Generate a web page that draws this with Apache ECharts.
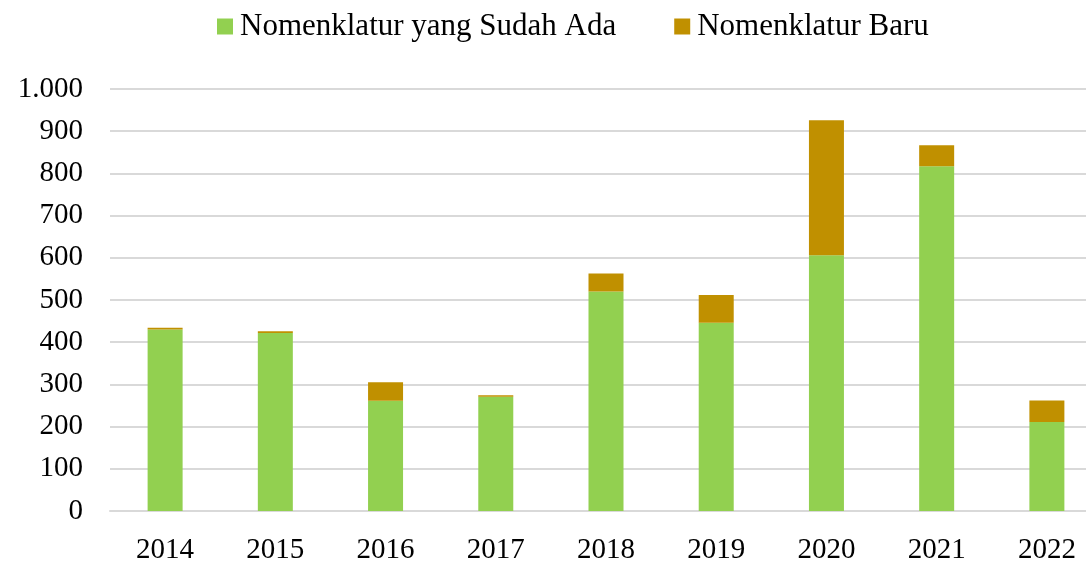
<!DOCTYPE html>
<html>
<head>
<meta charset="utf-8">
<script src="https://cdn.jsdelivr.net/npm/echarts@6/dist/echarts.min.js"></script>
<style>
  html, body { margin: 0; padding: 0; background: #fff; }
  #chart { width: 1086px; height: 561px; }
</style>
</head>
<body>
<div id="chart"></div>
<script>
// data
var years = ["2014", "2015", "2016", "2017", "2018", "2019", "2020", "2021", "2022"];
var sudahAda = [430, 422, 261, 271, 520, 446, 606, 817, 211];
var baru = [4, 4, 44, 3, 43, 66, 320, 50, 51];
var seriesNames = ["Nomenklatur yang Sudah Ada", "Nomenklatur Baru"];

var fontSerif = "'Liberation Serif', 'DejaVu Serif', serif";

var myChart = echarts.init(document.getElementById('chart'));

//format angka dengan titik ribuan
function fmt(v) {
    return String(v).replace(/\B(?=(\d{3})+(?!\d))/g, ".");
}

var option = {
    animation: false,
    color: ["#92d050", "#c09000"],
    legend: {
        top: 6,
        left: 212,
        itemWidth: 16,
        itemHeight: 16,
        itemGap: 58,
        icon: "rect",
        textStyle: { fontFamily: fontSerif, fontSize: 31, color: "#000", padding: [0, 0, 0, 2] },
        data: seriesNames
    },
    grid: { left: 110, width: 992, top: 89, bottom: 50, containLabel: false, outerBoundsMode: "none" },
    xAxis: {
        type: "category",
        data: years,
        axisLine: { lineStyle: { color: "#d9d9d9", width: 2 } },
        axisTick: { show: false },
        axisLabel: { fontFamily: fontSerif, fontSize: 29, color: "#000", margin: 25 }
    },
    yAxis: {
        type: "value",
        min: 0,
        max: 1000,
        interval: 100,
        axisLine: { show: false },
        axisTick: { show: false },
        splitLine: { lineStyle: { color: "#d9d9d9", width: 2 } },
        axisLabel: { fontFamily: fontSerif, fontSize: 29, color: "#000", margin: 27, formatter: fmt }
    },
    series: [
        {
            name: seriesNames[0],
            type: "bar",
            stack: "total",
            barWidth: 35,
            data: sudahAda
        },
        {
            name: seriesNames[1],
            type: "bar",
            stack: "total",
            barWidth: 35,
            data: baru
        }
    ]
};
myChart.setOption(option);
</script>
</body>
</html>
